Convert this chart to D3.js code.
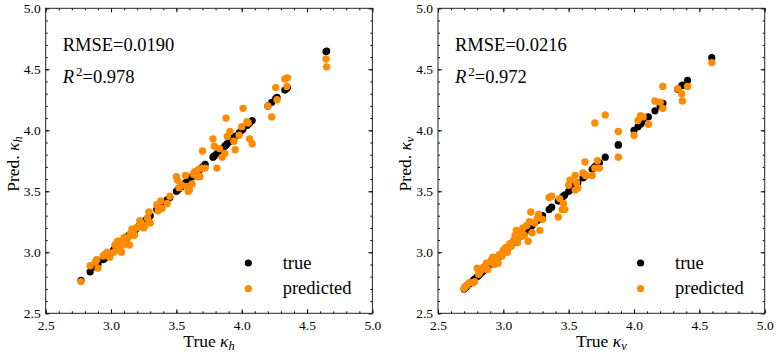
<!DOCTYPE html>
<html>
<head>
<meta charset="utf-8">
<script src="https://cdn.jsdelivr.net/npm/d3@7"></script>
<style>
body { margin: 0; background: #fff; }
</style>
</head>
<body>
<div id="chart"></div>
<script>
var width = 778, height = 354;
var serif = "'Liberation Serif', 'Times New Roman', 'DejaVu Serif', serif";

// kappa_h : true vs predicted
var trueH = [2.77, 2.84, 2.88, 2.89, 2.90, 2.94, 2.95, 2.97, 2.98, 2.99, 3.02, 3.03, 3.04, 3.05, 3.06,
  3.07, 3.08, 3.09, 3.10, 3.12, 3.13, 3.14, 3.15, 3.16, 3.17, 3.18, 3.19, 3.21, 3.22, 3.23, 3.25, 3.26,
  3.28, 3.29, 3.30, 3.35, 3.36, 3.38, 3.39, 3.43, 3.45, 3.50, 3.51, 3.52, 3.54, 3.57, 3.58, 3.59, 3.60,
  3.62, 3.63, 3.64, 3.66, 3.67, 3.68, 3.69, 3.70, 3.72, 3.78, 3.79, 3.81, 3.83, 3.85, 3.87, 3.88, 3.89,
  3.91, 3.94, 3.95, 3.98, 4.00, 4.01, 4.04, 4.05, 4.06, 4.08, 4.20, 4.23, 4.26, 4.27, 4.33, 4.345, 4.35,
  4.645, 4.65];
var predH = [2.76, 2.89, 2.92, 2.94, 2.87, 2.97, 2.98, 3.00, 2.99, 2.96, 3.00, 3.06, 3.05, 3.09, 3.02,
  3.09, 3.00, 3.06, 3.12, 3.07, 3.12, 3.06, 3.15, 3.19, 3.18, 3.14, 3.20, 3.21, 3.26, 3.24, 3.20, 3.22,
  3.28, 3.33, 3.24, 3.39, 3.34, 3.42, 3.36, 3.40, 3.46, 3.62, 3.59, 3.53, 3.55, 3.63, 3.54, 3.50, 3.51,
  3.56, 3.64, 3.66, 3.62, 3.68, 3.62, 3.69, 3.83, 3.69, 3.93, 3.87, 3.69, 3.85, 3.78, 3.81, 4.10, 3.95,
  3.99, 3.91, 3.84, 3.96, 4.03, 4.18, 4.07, 4.06, 3.93, 3.89, 4.20, 4.11, 4.35, 4.25, 4.42, 4.36, 4.43,
  4.585, 4.52];

// kappa_v : true vs predicted
var trueV = [2.70, 2.71, 2.72, 2.74, 2.77, 2.78, 2.80, 2.81, 2.82, 2.84, 2.85, 2.87, 2.88, 2.90, 2.91,
  2.92, 2.93, 2.95, 2.96, 2.97, 2.99, 3.00, 3.02, 3.03, 3.05, 3.06, 3.08, 3.09, 3.10, 3.11, 3.13, 3.14,
  3.15, 3.16, 3.18, 3.19, 3.20, 3.21, 3.22, 3.24, 3.26, 3.27, 3.28, 3.30, 3.35, 3.37, 3.42, 3.43, 3.45,
  3.46, 3.47, 3.50, 3.51, 3.55, 3.55, 3.56, 3.57, 3.61, 3.625, 3.63, 3.68, 3.70, 3.70, 3.72, 3.735, 3.78,
  3.88, 3.88, 4.00, 4.03, 4.05, 4.07, 4.11, 4.16, 4.20, 4.22, 4.22, 4.335, 4.365, 4.37, 4.41, 4.595];
var predV = [2.705, 2.72, 2.73, 2.75, 2.75, 2.76, 2.87, 2.82, 2.84, 2.86, 2.88, 2.91, 2.86, 2.92, 2.94,
  2.96, 2.90, 2.95, 2.91, 2.98, 2.97, 3.02, 3.04, 3.00, 3.07, 3.05, 3.10, 3.14, 3.18, 3.08, 3.13, 3.17,
  3.20, 3.14, 3.22, 3.09, 3.25, 3.33, 3.16, 3.24, 3.28, 3.31, 3.18, 3.27, 3.45, 3.46, 3.29, 3.44, 3.35,
  3.40, 3.35, 3.55, 3.59, 3.51, 3.63, 3.57, 3.53, 3.65, 3.74, 3.63, 3.63, 4.06, 3.69, 3.75, 3.69, 4.125,
  3.99, 3.78, 3.96, 4.08, 4.12, 4.11, 4.05, 4.24, 4.23, 4.18, 4.36, 4.34, 4.30, 4.24, 4.36, 4.555];

var majorTicks = [2.5, 3.0, 3.5, 4.0, 4.5, 5.0];
var minorTicks = d3.range(25, 51).map(function(d) { return d / 10; });
var subscripts = ["h", "v"];
var rmseText = ["0.0190", "0.0216"];
var r2Text = ["0.978", "0.972"];
var legendLabels = ["true", "predicted"];
var colors = {"true": "#000000", "predicted": "#ff8c00"};

var svg = d3.select("#chart").append("svg")
    .attr("width", width)
    .attr("height", height)
    .style("font-family", serif);

function drawPanel(i, trueVals, predVals) {
  var left = [45.7, 438][i], right = left + 326.7,
      top = 8.3, bottom = 313.3;

  var x = d3.scaleLinear().domain([2.5, 5.0]).range([left, right]);
  var y = d3.scaleLinear().domain([2.5, 5.0]).range([bottom, top]);

  var g = svg.append("g");

  // ticks point inward on all four sides
  function clean(sel) {
    sel.select(".domain").remove();
    sel.attr("font-family", null);
    sel.selectAll("text").style("font-family", serif);
  }
  var fmt = d3.format(".1f");

  g.append("g").attr("transform", "translate(0," + bottom + ")")
      .call(d3.axisBottom(x).tickValues(minorTicks).tickSize(-2).tickFormat(""))
      .call(clean);
  g.append("g").attr("transform", "translate(0," + top + ")")
      .call(d3.axisTop(x).tickValues(minorTicks).tickSize(-2).tickFormat(""))
      .call(clean);
  g.append("g").attr("transform", "translate(" + left + ",0)")
      .call(d3.axisLeft(y).tickValues(minorTicks).tickSize(-2).tickFormat(""))
      .call(clean);
  g.append("g").attr("transform", "translate(" + right + ",0)")
      .call(d3.axisRight(y).tickValues(minorTicks).tickSize(-2).tickFormat(""))
      .call(clean);

  g.append("g").attr("transform", "translate(0," + bottom + ")")
      .call(d3.axisBottom(x).tickValues(majorTicks).tickSize(-4).tickPadding(7).tickFormat(fmt))
      .call(clean)
      .attr("font-size", 13.5);
  g.append("g").attr("transform", "translate(0," + top + ")")
      .call(d3.axisTop(x).tickValues(majorTicks).tickSize(-4).tickFormat(""))
      .call(clean);
  g.append("g").attr("transform", "translate(" + left + ",0)")
      .call(d3.axisLeft(y).tickValues(majorTicks).tickSize(-4).tickPadding(5).tickFormat(fmt))
      .call(clean)
      .attr("font-size", 13.5);
  g.append("g").attr("transform", "translate(" + right + ",0)")
      .call(d3.axisRight(y).tickValues(majorTicks).tickSize(-4).tickFormat(""))
      .call(clean);

  g.append("rect")
      .attr("x", left).attr("y", top)
      .attr("width", right - left).attr("height", bottom - top)
      .attr("fill", "none")
      .attr("stroke", "#222")
      .attr("stroke-width", 1);

  // true points on the diagonal, predicted on top
  g.append("g").selectAll("circle")
      .data(trueVals)
    .enter().append("circle")
      .attr("cx", function(d) { return x(d); })
      .attr("cy", function(d) { return y(d); })
      .attr("r", 3.6)
      .attr("fill", colors["true"]);

  g.append("g").selectAll("circle")
      .data(predVals)
    .enter().append("circle")
      .attr("cx", function(d, j) { return x(trueVals[j]); })
      .attr("cy", function(d) { return y(d); })
      .attr("r", 3.7)
      .attr("fill", colors["predicted"]);

  // stats
  g.append("text")
      .attr("x", left + 17).attr("y", 50.7)
      .attr("font-size", 18.5)
      .text("RMSE=" + rmseText[i]);
  var r2 = g.append("text")
      .attr("x", left + 17).attr("y", 82.7)
      .attr("font-size", 18.5);
  r2.append("tspan").attr("font-style", "italic").text("R");
  r2.append("tspan").attr("font-size", 13).attr("dy", -7).attr("dx", 2).text("2");
  r2.append("tspan").attr("dy", 7).text("=" + r2Text[i]);

  // legend
  legendLabels.forEach(function(name, k) {
    var cy = 263 + k * 25.7;
    g.append("circle")
        .attr("cx", left + 202.6).attr("cy", cy)
        .attr("r", 3.6)
        .attr("fill", colors[name]);
    g.append("text")
        .attr("x", left + 237).attr("y", cy + 5.5)
        .attr("font-size", 18.5)
        .text(name);
  });

  // axis labels
  var xl = g.append("text")
      .attr("x", (left + right) / 2).attr("y", 346.5)
      .attr("text-anchor", "middle")
      .attr("font-size", 17.5);
  xl.append("tspan").text("True ");
  xl.append("tspan").attr("font-style", "italic").text("κ");
  xl.append("tspan").attr("font-style", "italic").attr("font-size", 12.5).attr("dy", 3).text(subscripts[i]);

  var yl = g.append("text")
      .attr("transform", "translate(" + (left - 27.2) + "," + 164 + ") rotate(-90)")
      .attr("text-anchor", "middle")
      .attr("font-size", 17.5);
  yl.append("tspan").text("Pred. ");
  yl.append("tspan").attr("font-style", "italic").text("κ");
  yl.append("tspan").attr("font-style", "italic").attr("font-size", 12.5).attr("dy", 3).text(subscripts[i]);
}

drawPanel(0, trueH, predH);
drawPanel(1, trueV, predV);
</script>
</body>
</html>
